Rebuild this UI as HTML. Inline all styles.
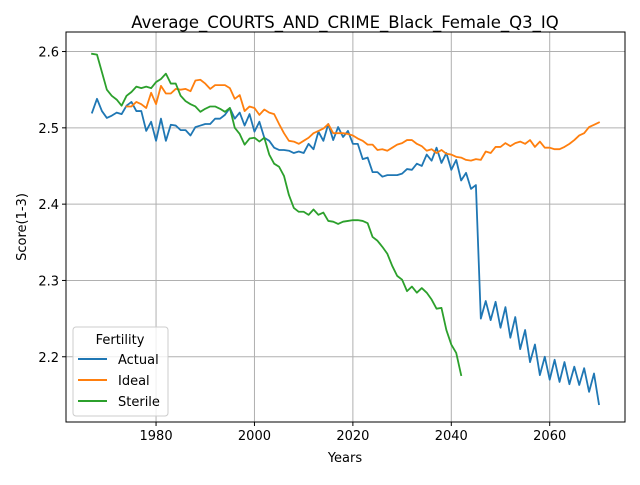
<!DOCTYPE html>
<html><head><meta charset="utf-8"><style>
body{margin:0;background:#fff;}
svg text{font-family:"DejaVu Sans","Liberation Sans",sans-serif;fill:#000;}
</style></head><body>
<svg id="chart" width="640" height="480" xmlns="http://www.w3.org/2000/svg">
<rect width="640" height="480" fill="#fff"/>
<text x="345" y="28" font-size="16.5" text-anchor="middle">Average_COURTS_AND_CRIME_Black_Female_Q3_IQ</text>
<g id="grid"></g>
<g id="series"></g>
<rect x="66" y="32" width="559" height="390" fill="none" stroke="#000" stroke-width="1"/>
<g id="ticks"></g>
<text x="345" y="462" font-size="13" text-anchor="middle">Years</text>
<text x="26" y="227" font-size="13" text-anchor="middle" transform="rotate(-90 26 227)">Score(1-3)</text>
<g>
<rect x="73" y="327" width="95" height="89" rx="3" fill="#fff" fill-opacity="0.8" stroke="#ccc"/>
<text x="120" y="344" font-size="13" text-anchor="middle">Fertility</text>
<g><line x1="78" y1="359" x2="107" y2="359" stroke="#1f77b4" stroke-width="2"/><text x="118" y="364" font-size="13">Actual</text></g>
<g><line x1="78" y1="380" x2="107" y2="380" stroke="#ff7f0e" stroke-width="2"/><text x="118" y="385" font-size="13">Ideal</text></g>
<g><line x1="78" y1="401" x2="107" y2="401" stroke="#2ca02c" stroke-width="2"/><text x="118" y="406" font-size="13">Sterile</text></g>
</g>
</svg>
<script>
const xTicks = [1980, 2000, 2020, 2040, 2060];
const yTicks = [2.2, 2.3, 2.4, 2.5, 2.6];
const actualStart = 1967;
const actualValues = [2.520,2.538,2.522,2.513,2.516,2.520,2.518,2.529,2.534,2.522,
2.522,2.496,2.508,2.483,2.512,2.483,2.504,2.503,2.497,2.497,
2.490,2.501,2.503,2.505,2.505,2.512,2.512,2.517,2.526,2.512,
2.520,2.503,2.518,
2.495,2.508,2.487,2.483,2.474,2.471,2.471,2.470,2.467,2.469,
2.467,2.479,2.472,2.495,2.483,2.505,2.484,2.501,2.488,2.496,
2.479,2.479,2.459,2.461,2.442,2.442,2.436,2.438,2.438,2.438,
2.440,2.446,2.445,2.453,2.450,2.465,2.457,2.474,2.454,2.467,
2.445,2.458,2.431,2.441,2.420,2.425,2.250,2.273,2.248,2.272,
2.238,2.265,2.225,2.252,2.210,2.235,2.193,2.216,2.176,2.200,
2.170,2.196,2.167,2.193,2.164,2.187,2.163,2.185,2.154,2.178,2.138];
const idealStart = 1974;
const idealValues = [2.528,2.528,2.534,2.531,2.526,2.546,2.531,2.555,2.545,2.545,
2.551,2.550,2.551,2.548,2.562,2.563,2.558,2.551,2.556,2.556,
2.556,2.552,2.538,2.543,2.522,2.528,2.526,2.517,2.524,2.520,
2.518,2.505,2.493,2.483,2.482,2.479,2.483,2.487,2.493,2.496,
2.499,2.505,2.493,2.493,2.493,2.492,2.490,2.486,2.483,2.478,
2.478,2.471,2.472,2.470,2.474,2.478,2.480,2.484,2.484,2.479,
2.476,2.470,2.472,2.467,2.471,2.466,2.465,2.462,2.461,2.458,
2.457,2.459,2.458,2.469,2.467,2.475,2.475,2.480,2.476,2.480,
2.482,2.479,2.484,2.475,2.482,2.474,2.474,2.472,2.472,2.475,
2.479,2.484,2.490,2.493,2.501,2.504,2.507];
const sterileStart = 1967;
const sterileValues = [2.597,2.596,2.573,2.550,2.542,2.537,2.529,2.542,2.547,2.554,
2.552,2.554,2.552,2.560,2.564,2.571,2.558,2.558,2.542,2.535,
2.531,2.528,2.521,2.525,2.528,2.528,2.525,2.521,2.526,2.500,
2.492,2.478,2.486,2.487,
2.482,2.487,2.465,2.453,2.449,2.437,2.412,2.395,2.390,2.390,
2.386,2.393,2.386,2.389,2.378,2.377,2.374,2.377,2.378,
2.379,2.379,2.378,2.375,2.357,2.352,2.344,2.335,2.319,2.306,
2.301,2.286,2.292,2.284,2.290,2.284,2.275,2.263,2.264,2.235,
2.216,2.205,2.176];

const X0 = 66, X1 = 625, Y0 = 32, Y1 = 422;
const xMin = 1961.7, xMax = 2075.3, yMin = 2.1145, yMax = 2.6256;
function xs(v){ return X0 + (v - xMin) / (xMax - xMin) * (X1 - X0); }
function ys(v){ return Y1 - (v - yMin) / (yMax - yMin) * (Y1 - Y0); }
const NS = "http://www.w3.org/2000/svg";
const grid = document.getElementById('grid');
const ticks = document.getElementById('ticks');
const series = document.getElementById('series');
function mk(tag, attrs, parent){ const e = document.createElementNS(NS, tag); for (const k in attrs) e.setAttribute(k, attrs[k]); parent.appendChild(e); return e; }

xTicks.forEach(t => {
  const x = xs(t);
  const g = mk('line', {x1:x, y1:Y0, x2:x, y2:Y1, stroke:'#b0b0b0', 'stroke-width':1}, grid);
  
  
  mk('line', {x1:x, y1:Y1, x2:x, y2:Y1+4, stroke:'#000'}, ticks);
  const tx = mk('text', {x:x, y:Y1+18, 'font-size':13, 'text-anchor':'middle'}, ticks);
  tx.textContent = t;
  
  
});
yTicks.forEach(t => {
  const y = ys(t);
  const g = mk('line', {x1:X0, y1:y, x2:X1, y2:y, stroke:'#b0b0b0', 'stroke-width':1}, grid);
  
  
  mk('line', {x1:X0-4, y1:y, x2:X0, y2:y, stroke:'#000'}, ticks);
  const tx = mk('text', {x:X0-7, y:y+5, 'font-size':13, 'text-anchor':'end'}, ticks);
  tx.textContent = t.toFixed(1);
  
  
});
function drawLine(start, vals, color, name){
  const pts = vals.map((v, i) => xs(start + i).toFixed(2) + ',' + ys(v).toFixed(2)).join(' ');
  const p = mk('polyline', {points:pts, fill:'none', stroke:color, 'stroke-width':1.8, 'stroke-linejoin':'round', 'stroke-linecap':'square'}, series);
  
  
}
drawLine(actualStart, actualValues, '#1f77b4', 'actual-line');
drawLine(idealStart, idealValues, '#ff7f0e', 'ideal-line');
drawLine(sterileStart, sterileValues, '#2ca02c', 'sterile-line');
</script>
</body></html>
